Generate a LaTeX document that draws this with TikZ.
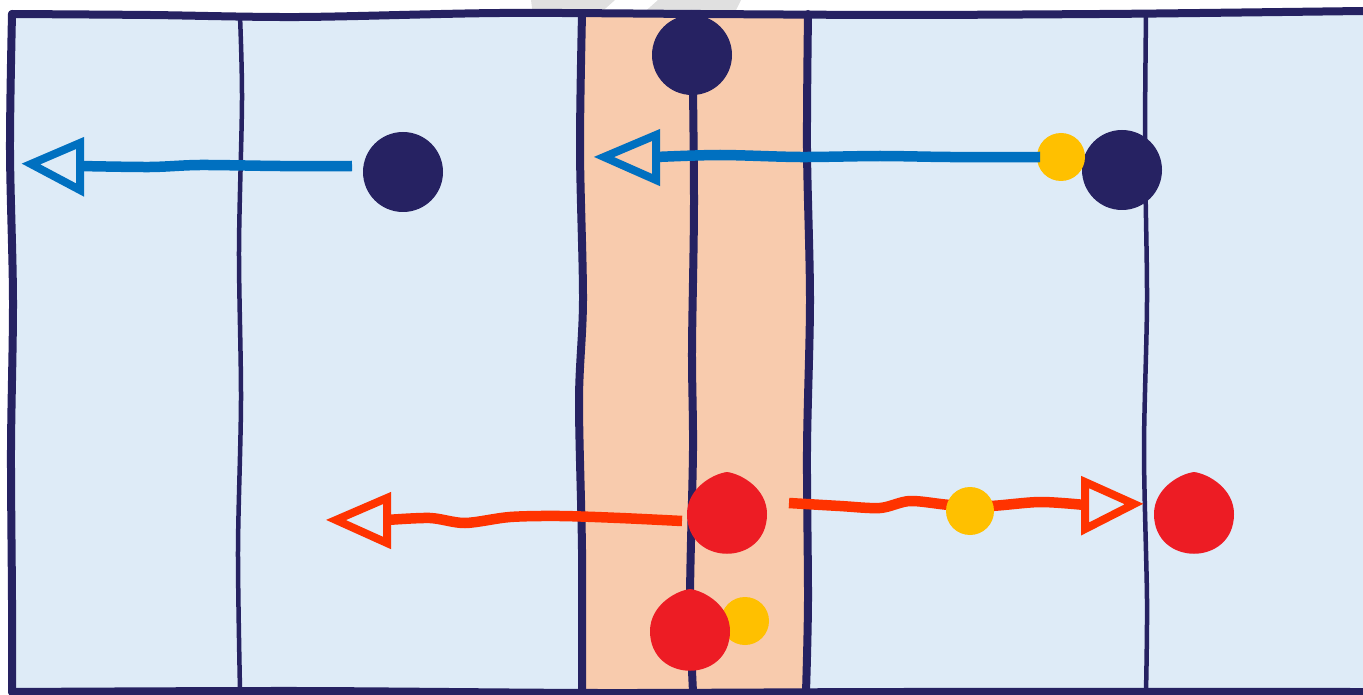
\documentclass[tikz,border=0pt]{standalone}
\usetikzlibrary{calc}
\definecolor{navy}{RGB}{38,34,98}
\definecolor{lightblue}{RGB}{222,235,247}
\definecolor{peach}{RGB}{248,203,173}
\definecolor{arrowblue}{RGB}{0,112,192}
\definecolor{arroworange}{RGB}{255,51,0}
\definecolor{dotred}{RGB}{237,28,36}
\definecolor{dotyellow}{RGB}{255,192,0}
\definecolor{watergray}{RGB}{224,224,224}
\tikzset{
  thickborder/.style={draw=navy,line width=8pt,line cap=round,line join=round},
  thinborder/.style={draw=navy,line width=4.5pt,line cap=round},
  navydot/.style={circle,fill=navy,minimum size=80pt,inner sep=0},
  yellowdot/.style={circle,fill=dotyellow,minimum size=48pt,inner sep=0},
  reddot/.style={coordinate},
  blueline/.style={draw=arrowblue,line width=10.5pt},
  bluehead/.style={draw=arrowblue,line width=8pt,line join=miter,miter limit=6},
  orangeline/.style={draw=arroworange,line width=10.5pt},
  orangehead/.style={draw=arroworange,line width=8pt,line join=miter,miter limit=6},
}
\newcommand{\teardrop}[1]{%
  \fill[dotred] ($(#1)+(-40,2)$) .. controls +(0,53) and +(0,53) .. ($(#1)+(40,2)$)
    .. controls +(0,-25) and +(15,2) .. ($(#1)+(0,-40)$)
    .. controls +(-15,2) and +(0,-25) .. ($(#1)+(-40,2)$) -- cycle;}
\begin{document}
\begin{tikzpicture}[x=1pt,y=-1pt]
\useasboundingbox (0,0) rectangle (1363,695);
% faint watermark
\fill[watergray] (531,0) -- (615,0) -- (597,16) -- (533,16) -- cycle;
\fill[watergray] (658,0) -- (741,0) -- (733,16) -- (640,16) -- cycle;
% panels
\fill[lightblue] (12,14) rectangle (1363,692);
\fill[peach] (582,14) rectangle (808,692);
% thin dividers
\draw[thinborder] plot[smooth] coordinates {(240,16) (242,100) (239,250) (241,400) (238,550) (240,690)};
\draw[thinborder] plot[smooth] coordinates {(1146,14) (1145,150) (1147,300) (1144,450) (1147,600) (1146,692)};
% thick dividers
\draw[thickborder] plot[smooth] coordinates {(582,14) (580,150) (583,300) (579,400) (582,550) (582,690)};
\draw[thickborder] plot[smooth] coordinates {(692,14) (694,200) (692,350) (693,450) (690,600) (693,692)};
\draw[thickborder] plot[smooth] coordinates {(808,14) (807,150) (810,300) (807,450) (808,600) (806,692)};
% outer frame
\draw[thickborder] plot[smooth] coordinates {(1363,11) (1200,13) (1100,14) (900,15) (700,14) (500,13) (300,17) (150,15) (12,14)};
\draw[thickborder] plot[smooth] coordinates {(12,14) (10,150) (13,300) (11,450) (12,600) (12,692)};
\draw[thickborder] plot[smooth] coordinates {(12,692) (300,691) (600,693) (900,692) (1363,692)};
% dots
\node[navydot] (n1) at (692,55) {};
\node[navydot] (n2) at (403,172) {};
\node[navydot] (n3) at (1122,170) {};
\node[yellowdot] (y1) at (1061,157) {};
\node[reddot] (r1) at (727,512) {};
\node[reddot] (r2) at (1194,512) {};
\node[yellowdot] (y3) at (745,621) {};
\node[reddot] (r3) at (690,629) {};
\teardrop{r1}
\teardrop{r2}
\teardrop{r3}
% arrow end points
\coordinate (b1s) at (352,166);
\coordinate (b1b) at (80,166);
\coordinate (b1t) at (31,164);
\coordinate (b2s) at (1040,157);
\coordinate (b2b) at (656,157);
\coordinate (b2t) at (604,157);
\coordinate (o1s) at (682,521);
\coordinate (o1b) at (387,520);
\coordinate (o1t) at (336,520);
\coordinate (o2s) at (789,503);
\coordinate (o2b) at (1085,505);
\coordinate (o2t) at (1134,504);
% blue arrows
\draw[blueline] plot[smooth] coordinates {(b1s) (280,166) (200,165) (150,167) (b1b)};
\draw[bluehead] (b1t) -- ($(b1b)+(0,-23)$) -- ($(b1b)+(0,24)$) -- cycle;
\draw[blueline] plot[smooth] coordinates {(b2s) (950,157) (880,156) (800,157) (720,155) (b2b)};
\draw[bluehead] (b2t) -- ($(b2b)+(0,-22)$) -- ($(b2b)+(0,23)$) -- cycle;
% orange arrows
\draw[orangeline] plot[smooth] coordinates {(o1s) (620,518) (560,516) (510,517) (465,523) (430,518) (o1b)};
\draw[orangehead] (o1t) -- ($(o1b)+(0,-22)$) -- ($(o1b)+(0,23)$) -- cycle;
\draw[orangeline] plot[smooth] coordinates {(o2s) (840,506) (880,508) (910,501) (950,505) (990,506) (1040,502) (o2b)};
\draw[orangehead] (o2t) -- ($(o2b)+(0,-23)$) -- ($(o2b)+(0,24)$) -- cycle;
\node[yellowdot] (y2) at (970,511) {};
\end{tikzpicture}
\end{document}
